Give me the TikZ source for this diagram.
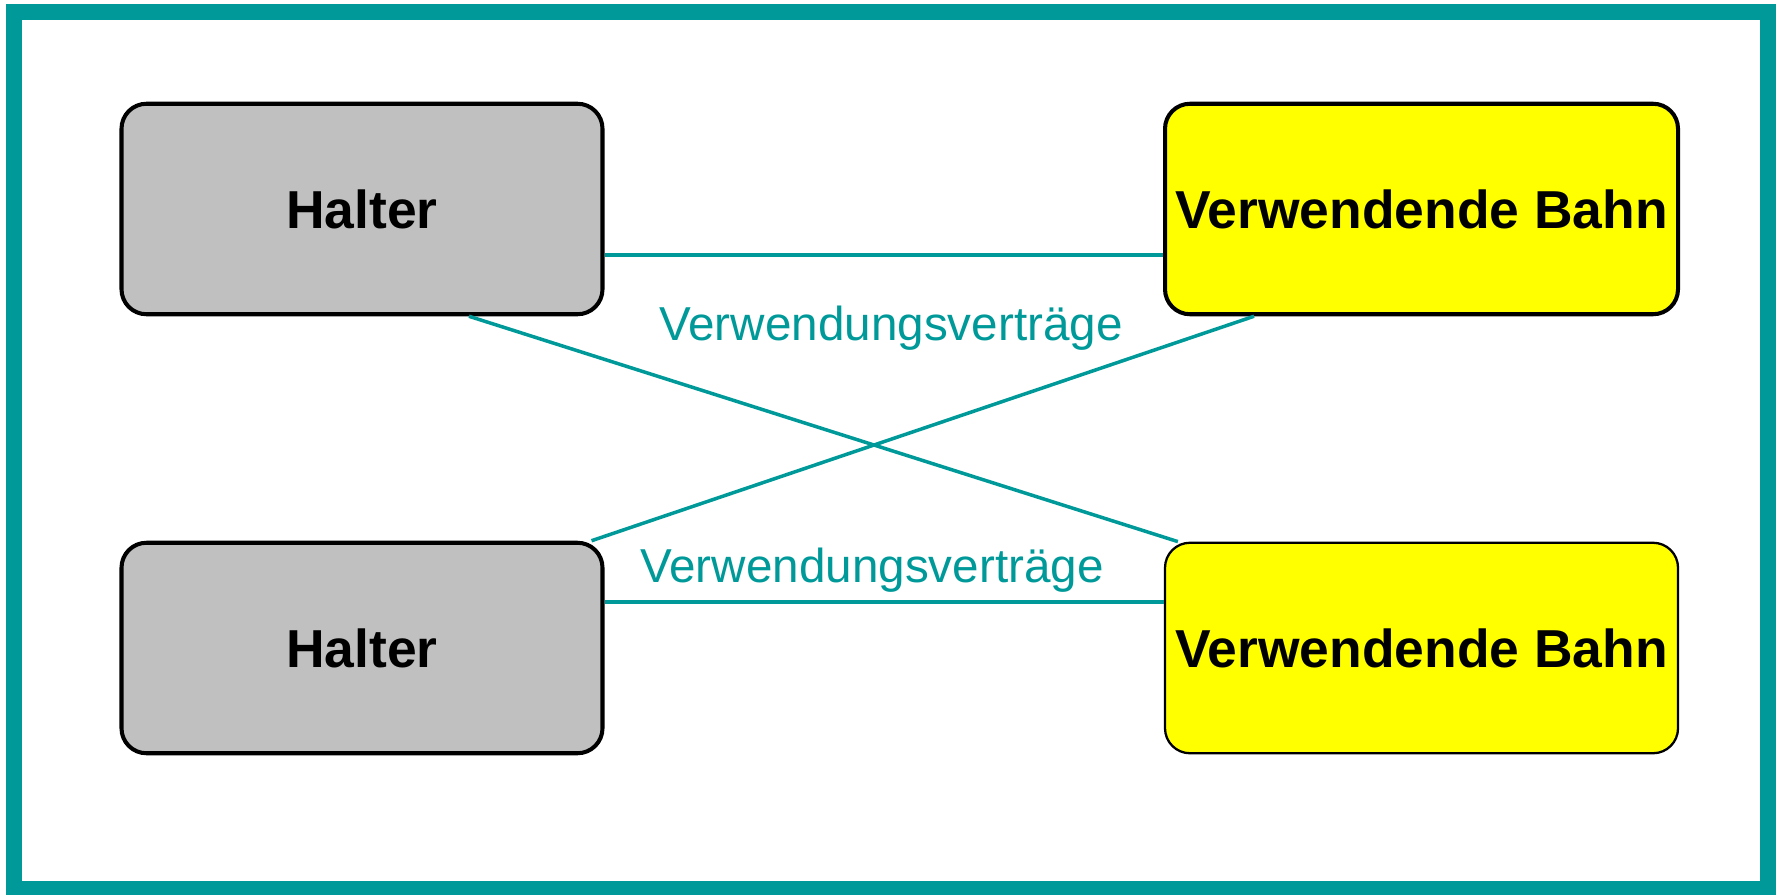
\documentclass[tikz,border=0pt]{standalone}
\usepackage{fontspec}
\setmainfont{Liberation Sans}
\usepackage{tikz}
\usetikzlibrary{positioning}

\definecolor{vteal}{RGB}{0,153,153}
\definecolor{haltergray}{RGB}{192,192,192}
\definecolor{bahnyellow}{RGB}{255,255,0}

\begin{document}
\begin{tikzpicture}[
    box/.style={draw=black, line width=1.15pt, rounded corners=0.25cm,
      minimum width=4.81cm, minimum height=2.105cm, inner sep=0pt,
      font=\fontsize{15.2}{18}\selectfont\bfseries},
    halter/.style={box, fill=haltergray},
    bahn/.style={box, fill=bahnyellow, minimum width=5.13cm},
    contract/.style={vteal, line width=1pt},
    contractlabel/.style={text=vteal, anchor=base, inner sep=0pt,
      font=\fontsize{13.55}{16}\selectfont}]
  \useasboundingbox (0,0) rectangle (17.79,8.94);

  % Outer frame
  \draw[vteal, line width=0.16cm] (0.14,8.815) rectangle (17.68,0.05);

  % Halter boxes
  \node[halter] (h1) at (3.62,6.85) {Halter};
  \node[halter] (h2) at (3.62,2.46) {Halter};

  % Verwendende Bahn boxes
  \node[bahn] (b1) at (14.215,6.85) {Verwendende Bahn};
  \node[bahn, line width=0.65pt] (b2) at (14.215,2.46) {Verwendende Bahn};

  % Contracts between Halter and Bahn
  \draw[contract] ([yshift=-0.46cm]h1.east) -- ([yshift=-0.46cm]b1.west);
  \draw[contract] ([yshift=0.46cm]h2.east) -- ([yshift=0.46cm]b2.west);
  \draw[contract] ([xshift=1.07cm]h1.south) -- ([xshift=0.14cm]b2.north west);
  \draw[contract] ([xshift=-0.13cm]h2.north east) -- ([xshift=-1.675cm]b1.south);

  % Labels
  \node[contractlabel] (l1) at (8.91,5.54) {Verwendungsverträge};
  \node[contractlabel] (l2) at (8.72,3.12) {Verwendungsverträge};
\end{tikzpicture}
\end{document}
